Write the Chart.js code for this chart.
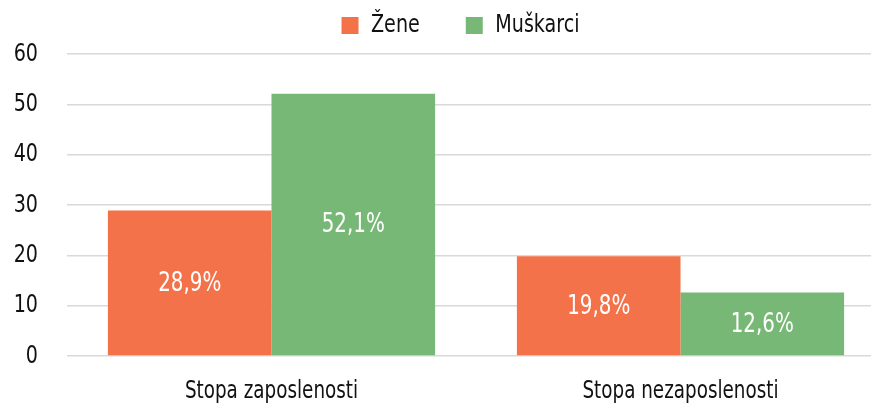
<!DOCTYPE html>
<html>
<head>
<meta charset="utf-8">
<script src="https://cdn.jsdelivr.net/npm/chart.js@4"></script>
<style>
  html, body { margin: 0; padding: 0; background: #fff; overflow: hidden; }
  #wrap { width: 885px; height: 408px; }
</style>
</head>
<body>
<div id="wrap"><canvas id="chart" width="885" height="408"></canvas></div>
<script>
// Employment and unemployment rates by sex (%)
const categories = ['Stopa zaposlenosti', 'Stopa nezaposlenosti'];
const seriesNames = ['Žene', 'Muškarci'];
const zene = [28.9, 19.8];
const muskarci = [52.1, 12.6];
const yTicks = [0, 10, 20, 30, 40, 50, 60];

const FONT = "'DejaVu Sans Condensed', 'DejaVu Sans', sans-serif";
const ORANGE = '#F4724A';
const GREEN = '#77B877';
const TEXT = '#111111';
const SQUEEZE = 0.85;   // horizontal compression to get a narrower, condensed look

const fmtPct = v => v.toFixed(1).replace('.', ',') + '%';

const canvas = document.getElementById('chart');
const ctx2d = canvas.getContext('2d');

// Condensed text: measure and draw every string a bit narrower than the face's natural width
(function condenseText(ctx) {
  const measure = ctx.measureText.bind(ctx);
  const fill = ctx.fillText.bind(ctx);
  ctx.measureText = function (t) {
    const m = measure(t);
    return {
      width: m.width * SQUEEZE,
      actualBoundingBoxAscent: m.actualBoundingBoxAscent,
      actualBoundingBoxDescent: m.actualBoundingBoxDescent,
      actualBoundingBoxLeft: m.actualBoundingBoxLeft * SQUEEZE,
      actualBoundingBoxRight: m.actualBoundingBoxRight * SQUEEZE
    };
  };
  ctx.fillText = function (t, x, y, maxWidth) {
    const w = measure(t).width * SQUEEZE;
    fill(t, x, y, maxWidth === undefined ? w : Math.min(maxWidth, w));
  };
})(ctx2d);

// White value labels centred inside each bar
const barValueLabels = {
  id: 'barValueLabels',
  afterDatasetsDraw(chart) {
    const ctx = chart.ctx;
    ctx.save();
    ctx.font = '26px ' + FONT;
    ctx.fillStyle = '#ffffff';
    ctx.textAlign = 'center';
    ctx.textBaseline = 'middle';
    chart.data.datasets.forEach((ds, i) => {
      chart.getDatasetMeta(i).data.forEach((bar, j) => {
        const p = bar.getProps(['x', 'y', 'base'], true);
        ctx.fillText(fmtPct(ds.data[j]), p.x, (p.y + p.base) / 2 + 1);
      });
    });
    ctx.restore();
  }
};

// Legend: fixed band height above the plot, items placed near the top and nudged right
const LEGEND_BAND = 54;
const legendPlacement = {
  id: 'legendPlacement',
  beforeLayout(chart) {
    const lg = chart.legend;
    if (lg && !lg._bandFit) {
      const fit = lg.fit.bind(lg);
      lg.fit = function () { fit(); this.height = LEGEND_BAND; };
      lg._bandFit = true;
    }
  },
  afterLayout(chart) {
    const lg = chart.legend;
    const dx = 18, dy = -33;
    lg.left += dx; lg.right += dx;
    lg.top += dy;            // bottom stays at the band edge so nothing is clipped
  }
};

new Chart(canvas, {
  type: 'bar',
  data: {
    labels: categories,
    datasets: [
      { label: seriesNames[0], data: zene, backgroundColor: ORANGE, barPercentage: 1, categoryPercentage: 0.8 },
      { label: seriesNames[1], data: muskarci, backgroundColor: GREEN, barPercentage: 1, categoryPercentage: 0.8 }
    ]
  },
  options: {
    responsive: false,
    animation: false,
    devicePixelRatio: 1,
    layout: { padding: 0 },
    plugins: {
      legend: {
        position: 'top',
        align: 'center',
        labels: {
          boxWidth: 17,
          boxHeight: 17,
          padding: 46,
          color: TEXT,
          font: { family: FONT, size: 25 }
        }
      },
      tooltip: { enabled: false }
    },
    scales: {
      x: {
        grid: { display: false, drawTicks: false },
        border: { display: false },
        ticks: { color: TEXT, font: { family: FONT, size: 24 }, padding: 21 },
        afterFit(scale) { scale.height = 52; }
      },
      y: {
        min: yTicks[0],
        max: yTicks[yTicks.length - 1],
        afterBuildTicks(scale) { scale.ticks = yTicks.map(v => ({ value: v })); },
        grid: { color: '#d9d9d9', lineWidth: 1.5, drawTicks: false },
        border: { display: false },
        ticks: { color: TEXT, font: { family: FONT, size: 25 }, padding: 29 },
        afterFit(scale) { scale.width = 67; }
      }
    }
  },
  plugins: [barValueLabels, legendPlacement]
});
</script>
</body>
</html>
